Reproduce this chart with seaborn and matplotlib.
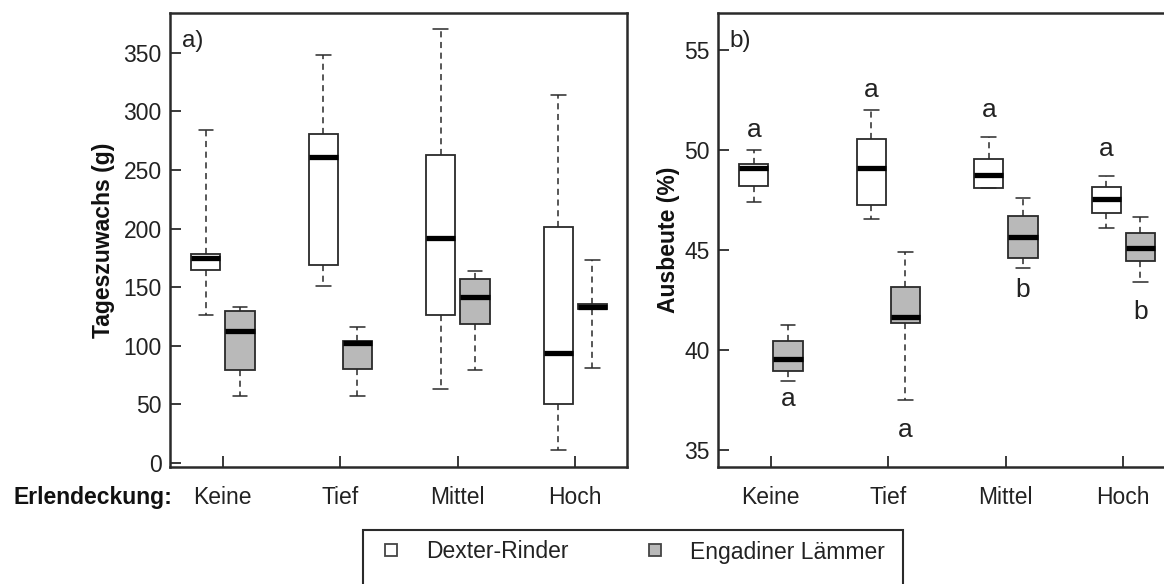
import numpy as np
import matplotlib
matplotlib.use("Agg")
import matplotlib.pyplot as plt
import seaborn as sns
import pandas as pd
from matplotlib.lines import Line2D
from matplotlib.patches import Rectangle

# categories and groups
cover = ["Keine", "Tief", "Mittel", "Hoch"]
groups = ["Dexter-Rinder", "Engadiner Lämmer"]

# five-number summaries (min, q1, median, q3, max)
gain_dexter = [
    [126, 165, 175, 178, 284],
    [151, 169, 261, 281, 348],
    [63, 126, 192, 263, 370],
    [11, 50, 94, 201, 314],
]
gain_lamb = [
    [57, 79, 113, 130, 133],
    [57, 80, 102, 104, 116],
    [79, 119, 142, 157, 164],
    [81, 131, 133.5, 136, 173],
]
yield_dexter = [
    [47.4, 48.2, 49.1, 49.3, 50.0],
    [46.55, 47.25, 49.1, 50.55, 52.0],
    [48.1, 48.12, 48.75, 49.53, 50.67],
    [46.12, 46.83, 47.55, 48.13, 48.7],
]
yield_lamb = [
    [38.47, 38.95, 39.55, 40.47, 41.25],
    [37.5, 41.33, 41.67, 43.17, 44.9],
    [44.08, 44.62, 45.63, 46.72, 47.62],
    [43.42, 44.45, 45.12, 45.83, 46.67],
]

# significance letters for panel b
letters_dexter = ["a", "a", "a", "a"]
letters_dexter_y = [51.0, 53.0, 52.0, 50.05]
letters_lamb = ["a", "a", "b", "b"]
letters_lamb_y = [37.55, 36.0, 43.0, 41.9]


def to_long(dexter, lamb):
    rows = []
    for g, series in zip(groups, [dexter, lamb]):
        for c, vals in zip(cover, series):
            for v in vals:
                rows.append({"cover": c, "group": g, "value": v})
    return pd.DataFrame(rows)


sns.set_style("ticks")
plt.rcParams["font.family"] = ["Liberation Sans", "DejaVu Sans"]

dark = "#2a2a2a"
fs = 16.5
palette = {"Dexter-Rinder": "white", "Engadiner Lämmer": "#b9b9b9"}

fig = plt.figure(figsize=(11.64, 5.84), dpi=100)
ax1 = fig.add_axes([170 / 1164, 1 - 467 / 584, 457 / 1164, 454 / 584])
ax2 = fig.add_axes([718 / 1164, 1 - 467 / 584, 457 / 1164, 454 / 584])

box_kws = dict(
    x="cover", y="value", hue="group", order=cover, hue_order=groups,
    palette=palette, whis=(0, 100), width=0.58, gap=0.14, dodge=True,
    linecolor=dark, linewidth=1.3, legend=False,
    medianprops=dict(color="black", linewidth=3.8),
    whiskerprops=dict(linestyle=(0, (4, 3)), linewidth=1.1),
    capprops=dict(linewidth=1.1),
)

sns.boxplot(data=to_long(gain_dexter, gain_lamb), ax=ax1, **box_kws)
sns.boxplot(data=to_long(yield_dexter, yield_lamb), ax=ax2, **box_kws)

ax1.set_ylim(-3.4, 384)
ax1.set_yticks([0, 50, 100, 150, 200, 250, 300, 350])
ax2.set_ylim(34.15, 56.85)
ax2.set_yticks([35, 40, 45, 50, 55])

for ax in (ax1, ax2):
    ax.set_xlim(-0.45, 3.44)
    ax.set_xlabel("")
    for s in ax.spines.values():
        s.set_visible(True)
        s.set_color(dark)
        s.set_linewidth(1.8)
    ax.tick_params(axis="both", direction="in", length=8, width=1.3,
                   color=dark, labelsize=fs, labelcolor="#222222")
    ax.tick_params(axis="x", pad=14)
    ax.tick_params(axis="y", pad=6)

ax1.set_ylabel("Tageszuwachs (g)", fontsize=fs, fontweight="bold",
               color="#111111", labelpad=6)
ax2.set_ylabel("Ausbeute (%)", fontsize=fs, fontweight="bold",
               color="#111111", labelpad=3)

ax1.text(0.026, 0.962, "a)", transform=ax1.transAxes, fontsize=fs + 1,
         va="top", ha="left", color="#222222")
ax2.text(0.024, 0.962, "b)", transform=ax2.transAxes, fontsize=fs + 1,
         va="top", ha="left", color="#222222")

# significance letters above / below the boxes
for i in range(len(cover)):
    ax2.text(i - 0.145, letters_dexter_y[i], letters_dexter[i], fontsize=19,
             ha="center", va="center", color="#222222")
    ax2.text(i + 0.145, letters_lamb_y[i], letters_lamb[i], fontsize=19,
             ha="center", va="center", color="#222222")

# axis caption to the left of the category labels
lab_tr = ax1.get_xaxis_text1_transform(14 * 1.0)[0]
ax1.text(-0.428, 0, "Erlendeckung:", transform=lab_tr, fontsize=fs,
         fontweight="bold", ha="right", va="top", color="#111111")

# legend
handles = [
    Line2D([], [], marker="s", linestyle="none", markersize=9,
           markerfacecolor=palette[g], markeredgecolor="#444444",
           markeredgewidth=1.3)
    for g in groups
]
fig.legend(handles, groups, loc="center left",
           bbox_to_anchor=(380 / 1164, 1 - 552 / 584), ncol=2,
           frameon=False, fontsize=fs, handlelength=1.0, handletextpad=1.0,
           columnspacing=3.3, borderpad=0, borderaxespad=0,
           labelcolor="#222222")
fig.add_artist(Rectangle((363 / 1164, -0.05), 540 / 1164, 0.05 + 1 - 530 / 584,
                         transform=fig.transFigure, fill=False,
                         edgecolor=dark, linewidth=1.5))

fig.savefig("out.png", dpi=100)
